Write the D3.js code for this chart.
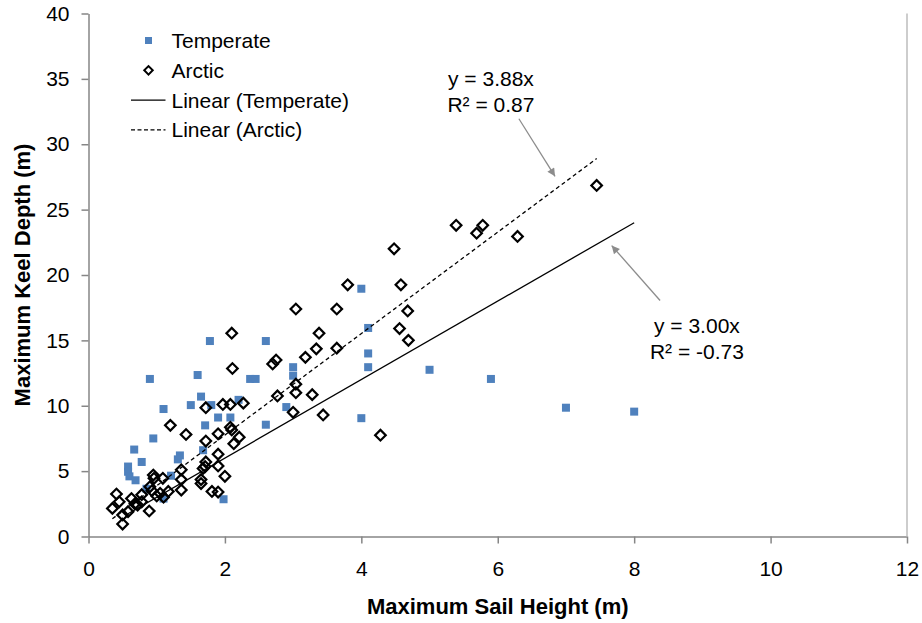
<!DOCTYPE html>
<html>
<head>
<meta charset="utf-8">
<script src="https://cdn.jsdelivr.net/npm/d3@7"></script>
<style>
  body { margin: 0; background: #fff; }
  text { font-family: "Liberation Sans", Arial, Helvetica, sans-serif; }
</style>
</head>
<body>
<div id="vis"></div>
<script>
// data
var tempX = [0.58, 0.58, 0.60, 0.69, 0.67, 0.78, 0.85, 0.90, 0.95, 1.10, 1.10, 1.21, 1.31, 1.34, 1.50, 1.60, 1.65, 1.68, 1.71, 1.78, 1.80, 1.90, 1.98, 2.08, 2.20, 2.37, 2.45, 2.60, 2.60, 2.90, 3.00, 3.00, 4.00, 4.00, 4.10, 4.10, 4.10, 5.00, 5.90, 7.00, 8.00];
var tempY = [5.35, 4.95, 4.60, 4.30, 6.65, 5.70, 3.65, 12.05, 7.50, 9.75, 2.90, 4.65, 5.90, 6.20, 10.05, 12.35, 10.70, 6.60, 8.50, 14.95, 10.05, 9.10, 2.85, 9.10, 10.45, 12.05, 12.05, 14.95, 8.55, 9.90, 12.95, 12.30, 18.95, 9.05, 15.95, 14.00, 12.95, 12.75, 12.05, 9.85, 9.55];

var arcticX = [0.35, 0.41, 0.45, 0.50, 0.50, 0.58, 0.63, 0.68, 0.72, 0.78, 0.78, 0.89, 0.90, 0.93, 0.95, 0.96, 1.00, 1.05, 1.09, 1.10, 1.17, 1.20, 1.36, 1.36, 1.36, 1.43, 1.65, 1.65, 1.68, 1.71, 1.72, 1.72, 1.72, 1.81, 1.90, 1.90, 1.90, 1.90, 1.97, 2.00, 2.08, 2.08, 2.10, 2.13, 2.21, 2.10, 2.11, 2.27, 2.70, 2.75, 2.77, 3.00, 3.04, 3.04, 3.04, 3.18, 3.28, 3.34, 3.38, 3.44, 3.64, 3.64, 3.80, 4.28, 4.48, 4.56, 4.58, 4.68, 4.69, 5.39, 5.69, 5.78, 6.29, 7.45];
var arcticY = [2.15, 3.25, 2.65, 1.65, 0.95, 1.90, 2.90, 2.50, 2.40, 3.20, 2.65, 1.95, 3.80, 3.50, 4.70, 4.45, 3.10, 3.30, 4.45, 3.00, 3.45, 8.50, 5.10, 4.35, 3.55, 7.80, 4.35, 4.05, 5.20, 5.35, 5.70, 7.30, 9.85, 3.45, 3.40, 5.40, 6.30, 7.85, 10.10, 4.60, 10.10, 8.35, 8.15, 7.10, 7.60, 15.55, 12.85, 10.20, 13.20, 13.50, 10.75, 9.50, 11.65, 11.00, 17.40, 13.70, 10.85, 14.35, 15.55, 9.30, 14.40, 17.40, 19.25, 7.75, 22.00, 15.90, 19.25, 17.25, 15.00, 23.80, 23.20, 23.80, 22.95, 26.85];

var tempSlope = 3.00, tempR2 = "-0.73";
var arcticSlope = 3.88, arcticR2 = "0.87";

var xTicks = [0, 2, 4, 6, 8, 10, 12];
var yTicks = [0, 5, 10, 15, 20, 25, 30, 35, 40];
var legendLabels = ["Temperate", "Arctic", "Linear (Temperate)", "Linear (Arctic)"];

var W = 922, H = 623;
var margin = {top: 13.5, right: 15, bottom: 86.5, left: 88.5};
var blue = "#4f81bd", axisGrey = "#868686", arrowGrey = "#8c8c8c";

var svg = d3.select("#vis").append("svg")
    .attr("width", W).attr("height", H);

var x = d3.scaleLinear().domain([0, 12]).range([margin.left, W - margin.right]);
var y = d3.scaleLinear().domain([0, 40]).range([H - margin.bottom, margin.top]);

svg.append("defs").append("marker")
    .attr("id", "arrow")
    .attr("viewBox", "0 0 10 10")
    .attr("refX", 10).attr("refY", 5)
    .attr("markerWidth", 10).attr("markerHeight", 8)
    .attr("markerUnits", "userSpaceOnUse")
    .attr("orient", "auto")
    .append("path").attr("d", "M0,0L10,5L0,10z").attr("fill", arrowGrey);

// axes
var yAxis = svg.append("g")
    .attr("transform", "translate(" + margin.left + ",0)")
    .call(d3.axisLeft(y).tickValues(yTicks).tickSize(7).tickSizeOuter(0).tickPadding(12));
var xAxis = svg.append("g")
    .attr("transform", "translate(0," + (H - margin.bottom) + ")")
    .call(d3.axisBottom(x).tickValues(xTicks).tickSize(7).tickSizeOuter(0).tickPadding(18));
[xAxis, yAxis].forEach(function (g) {
    g.selectAll("path, line").attr("stroke", axisGrey).attr("stroke-width", 1.5);
    g.selectAll("text").attr("fill", "#000").style("font-size", "21px")
        .style("font-family", '"Liberation Sans", Arial, sans-serif');
});

// right border of the plot area
svg.append("line")
    .attr("x1", x(12)).attr("x2", x(12))
    .attr("y1", y(40)).attr("y2", y(0))
    .attr("stroke", "#bcbcbc").attr("stroke-width", 1.5);

// axis titles
svg.append("text")
    .attr("x", (x(0) + x(12)) / 2).attr("y", 614)
    .attr("text-anchor", "middle")
    .style("font-size", "22px").style("font-weight", "bold")
    .text("Maximum Sail Height (m)");
svg.append("text")
    .attr("transform", "translate(30," + ((y(0) + y(40)) / 2) + ") rotate(-90)")
    .attr("text-anchor", "middle")
    .style("font-size", "22px").style("font-weight", "bold")
    .text("Maximum Keel Depth (m)");

// markers
var temperate = tempX.map(function (v, i) { return {x: v, y: tempY[i]}; });
var arctic = arcticX.map(function (v, i) { return {x: v, y: arcticY[i]}; });

svg.append("g").selectAll("rect")
    .data(temperate).join("rect")
    .attr("x", function (d) { return x(d.x) - 4; })
    .attr("y", function (d) { return y(d.y) - 4; })
    .attr("width", 8).attr("height", 8)
    .attr("fill", blue);

var diamond = d3.symbol().type(d3.symbolSquare).size(56);
svg.append("g").selectAll("path")
    .data(arctic).join("path")
    .attr("d", diamond)
    .attr("transform", function (d) { return "translate(" + x(d.x) + "," + y(d.y) + ") rotate(45)"; })
    .attr("fill", "none").attr("stroke", "#000").attr("stroke-width", 2.2);

// linear trendlines through the origin
function trend(xs, slope, dash) {
    var lo = d3.min(xs), hi = d3.max(xs);
    svg.append("line")
        .attr("x1", x(lo)).attr("y1", y(slope * lo))
        .attr("x2", x(hi)).attr("y2", y(slope * hi))
        .attr("stroke", "#000").attr("stroke-width", 1.3)
        .attr("stroke-dasharray", dash);
}
trend(tempX, tempSlope, null);
trend(arcticX, arcticSlope, "4,3");

// equation labels and arrows (in data units)
var notes = [
    {lines: ["y = " + arcticSlope.toFixed(2) + "x", "R\u00b2 = " + arcticR2], tx: 5.9, ty: 34.45, from: [6.31, 31.95], to: [6.84, 27.55]},
    {lines: ["y = " + tempSlope.toFixed(2) + "x", "R\u00b2 = " + tempR2], tx: 8.92, ty: 15.55, from: [8.38, 18.05], to: [7.67, 22.25]}
];
notes.forEach(function (n) {
    svg.append("line")
        .attr("x1", x(n.from[0])).attr("y1", y(n.from[1]))
        .attr("x2", x(n.to[0])).attr("y2", y(n.to[1]))
        .attr("stroke", arrowGrey).attr("stroke-width", 1.3)
        .attr("marker-end", "url(#arrow)");
    n.lines.forEach(function (t, i) {
        svg.append("text")
            .attr("x", x(n.tx)).attr("y", y(n.ty) + i * 26)
            .attr("text-anchor", "middle")
            .style("font-size", "21px")
            .text(t);
    });
});

// legend
var legend = svg.append("g").attr("transform", "translate(148.5,40.5)");
legendLabels.forEach(function (label, i) {
    var row = legend.append("g").attr("transform", "translate(0," + (i * 29.8) + ")");
    if (i === 0) {
        row.append("rect").attr("x", -3.5).attr("y", -3.5).attr("width", 7).attr("height", 7).attr("fill", blue);
    } else if (i === 1) {
        row.append("path").attr("d", d3.symbol().type(d3.symbolSquare).size(36)).attr("transform", "rotate(45)")
            .attr("fill", "none").attr("stroke", "#000").attr("stroke-width", 2);
    } else {
        row.append("line").attr("x1", -17.5).attr("x2", 17).attr("y1", 0).attr("y2", 0)
            .attr("stroke", "#000").attr("stroke-width", 1.2)
            .attr("stroke-dasharray", i === 3 ? "4,2.5" : null);
    }
    row.append("text").attr("x", 23).attr("y", 7.5)
        .style("font-size", "21px")
        .text(label);
});
</script>
</body>
</html>
